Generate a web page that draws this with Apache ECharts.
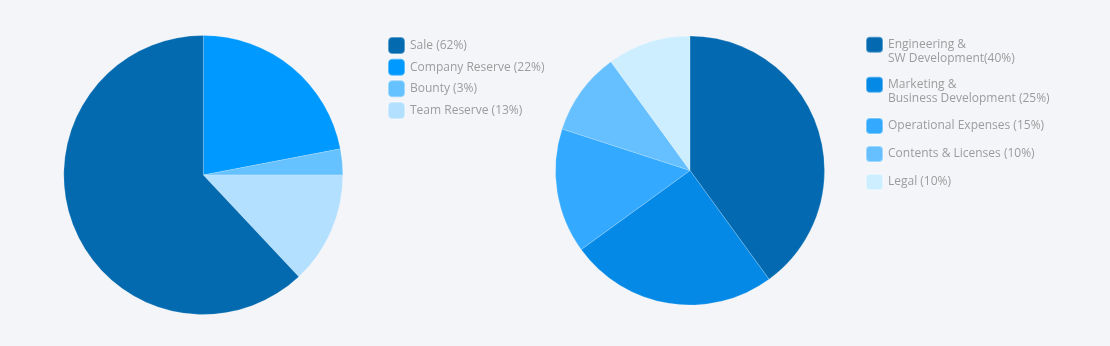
<!DOCTYPE html>
<html>
<head>
<meta charset="utf-8">
<script src="https://cdn.jsdelivr.net/npm/echarts@6/dist/echarts.min.js"></script>
<style>
  html, body { margin: 0; padding: 0; background: #f3f5f8; }
  #chart { width: 1110px; height: 346px; }
</style>
</head>
<body>
<div id="chart"></div>
<script>
// Token distribution, slices listed clockwise from 12 o'clock
const tokenNames = ['Company Reserve', 'Bounty', 'Team Reserve', 'Sale'];
const tokenValues = [22, 3, 13, 62];
const tokenColors = ['#0099ff', '#66c2ff', '#b3e0ff', '#036ab0'];
const tokenLegendOrder = ['Sale', 'Company Reserve', 'Bounty', 'Team Reserve'];

// Use of funds, slices listed clockwise from 12 o'clock
const fundNames = ['Engineering &\nSW Development', 'Marketing &\nBusiness Development', 'Operational Expenses', 'Contents & Licenses', 'Legal'];
const fundValues = [40, 25, 15, 10, 10];
const fundColors = ['#036ab1', '#0589e6', '#33aaff', '#66c0ff', '#cceeff'];
const fundLabelGaps = ['', ' ', ' ', ' ', ' '];

const textColor = '#9c9c9c';
const font = 'Open Sans';

const tokenValueOf = {};
tokenNames.forEach((n, i) => { tokenValueOf[n] = tokenValues[i]; });

// One legend block per fund entry; wrapped labels get an empty leading line so
// their first line sits level with the colour box
const fundLegendTops = [24.4, 64.4, 117, 145, 173];
const fundLegends = fundNames.map((name, i) => {
  const twoLine = name.indexOf('\n') >= 0;
  return {
    left: 865,
    top: fundLegendTops[i],
    padding: 0,
    orient: 'vertical',
    selectedMode: false,
    icon: 'roundRect',
    itemWidth: 17,
    itemHeight: 16,
    data: [name],
    formatter: n => (twoLine ? ' \n' : '') + n + fundLabelGaps[i] + '(' + fundValues[i] + '%)',
    textStyle: {
      color: textColor,
      fontFamily: font,
      fontSize: 12,
      lineHeight: 13.5
    }
  };
});

// Token legend rows, one block each at fixed offsets
const tokenLegendTops = [36, 57.7, 79.3, 101];
const tokenLegends = tokenLegendOrder.map((name, i) => ({
  left: 387,
  top: tokenLegendTops[i],
  padding: 0,
  orient: 'vertical',
  selectedMode: false,
  icon: 'roundRect',
  itemWidth: 17,
  itemHeight: 17,
  data: [name],
  formatter: n => n + ' (' + tokenValueOf[n] + '%)',
  textStyle: { color: textColor, fontFamily: font, fontSize: 12, lineHeight: 14 }
}));

const chart = echarts.init(document.getElementById('chart'), null, { renderer: 'canvas' });
chart.setOption({
  backgroundColor: '#f3f5f8',
  animation: false,
  legend: [...tokenLegends, ...fundLegends],
  series: [
    {
      type: 'pie',
      center: [203.3, 175],
      radius: 139.5,
      startAngle: 90,
      clockwise: true,
      silent: true,
      label: { show: false },
      labelLine: { show: false },
      itemStyle: { borderColor: 'rgba(255,255,255,0.35)', borderWidth: 0.5 },
      data: tokenNames.map((n, i) => ({ name: n, value: tokenValues[i], itemStyle: { color: tokenColors[i] } }))
    },
    {
      type: 'pie',
      center: [690, 170.5],
      radius: 134.5,
      startAngle: 90,
      clockwise: true,
      silent: true,
      label: { show: false },
      labelLine: { show: false },
      itemStyle: { borderColor: 'rgba(255,255,255,0.35)', borderWidth: 0.5 },
      data: fundNames.map((n, i) => ({ name: n, value: fundValues[i], itemStyle: { color: fundColors[i] } }))
    }
  ]
});
</script>
</body>
</html>
